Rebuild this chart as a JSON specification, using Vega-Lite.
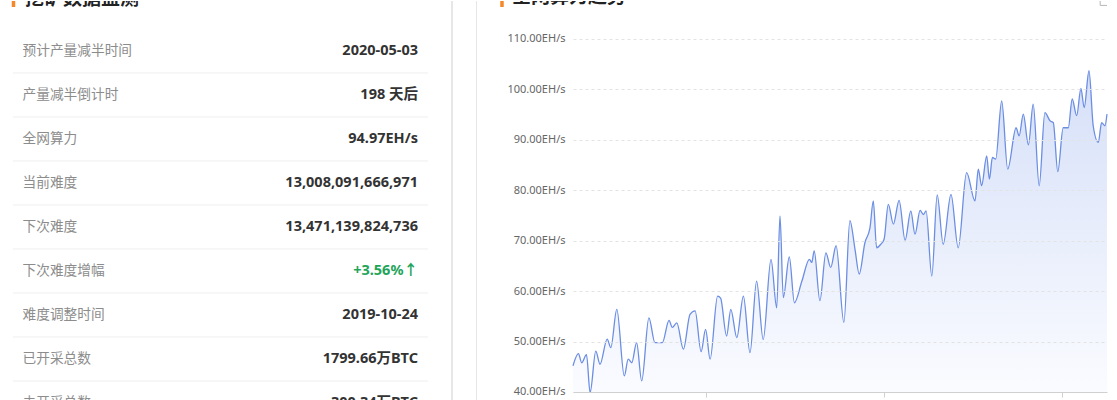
{
  "$schema": "https://vega.github.io/schema/vega-lite/v6.json",
  "padding": 0,
  "autosize": {"type": "pad"},
  "background": "white",
  "spacing": 0,
  "bounds": "flush",
  "config": {"view": {"stroke": null}, "font": "'Noto Sans', 'Noto Sans CJK SC', sans-serif"},
  "datasets": {
    "rows": [
      {"row": 1, "label": "预计产量减半时间", "value": "2020-05-03", "kind": "normal"},
      {"row": 2, "label": "产量减半倒计时", "value": "198 天后", "kind": "normal"},
      {"row": 3, "label": "全网算力", "value": "94.97EH/s", "kind": "normal"},
      {"row": 4, "label": "当前难度", "value": "13,008,091,666,971", "kind": "normal"},
      {"row": 5, "label": "下次难度", "value": "13,471,139,824,736", "kind": "normal"},
      {"row": 6, "label": "下次难度增幅", "value": "+3.56%↑", "kind": "up"},
      {"row": 7, "label": "难度调整时间", "value": "2019-10-24", "kind": "normal"},
      {"row": 8, "label": "已开采总数", "value": "1799.66万BTC", "kind": "normal"},
      {"row": 9, "label": "未开采总数", "value": "300.34万BTC", "kind": "normal"}
    ],
    "hashrate": [
      {"t": 0.0, "v": 45.2}, {"t": 1.8, "v": 47.6}, {"t": 2.9, "v": 45.8}, {"t": 4.5, "v": 47.4},
      {"t": 5.7, "v": 39.9}, {"t": 7.6, "v": 48.1}, {"t": 9.0, "v": 45.5}, {"t": 11.4, "v": 50.5},
      {"t": 12.6, "v": 48.8}, {"t": 14.6, "v": 56.4}, {"t": 17.1, "v": 43.2}, {"t": 18.4, "v": 46.5},
      {"t": 19.6, "v": 45.8}, {"t": 21.2, "v": 49.8}, {"t": 22.9, "v": 42.2}, {"t": 25.3, "v": 54.7},
      {"t": 27.3, "v": 49.8}, {"t": 29.8, "v": 49.8}, {"t": 32.0, "v": 54.2}, {"t": 33.1, "v": 52.8},
      {"t": 34.6, "v": 53.7}, {"t": 36.8, "v": 48.5}, {"t": 39.0, "v": 55.4}, {"t": 40.7, "v": 56.1},
      {"t": 42.7, "v": 48.0}, {"t": 44.2, "v": 52.4}, {"t": 45.7, "v": 46.5}, {"t": 48.2, "v": 59.0},
      {"t": 49.2, "v": 58.6}, {"t": 51.2, "v": 51.1}, {"t": 52.6, "v": 56.4}, {"t": 54.6, "v": 50.8},
      {"t": 56.8, "v": 59.0}, {"t": 59.0, "v": 47.8}, {"t": 61.2, "v": 62.0}, {"t": 63.4, "v": 50.4},
      {"t": 66.0, "v": 66.3}, {"t": 67.9, "v": 56.7}, {"t": 69.0, "v": 74.9}, {"t": 70.1, "v": 58.7},
      {"t": 72.1, "v": 66.8}, {"t": 73.8, "v": 57.7}, {"t": 76.3, "v": 62.0}, {"t": 78.8, "v": 66.3},
      {"t": 79.6, "v": 65.7}, {"t": 80.4, "v": 68.0}, {"t": 82.3, "v": 58.1}, {"t": 84.3, "v": 67.6},
      {"t": 85.9, "v": 64.7}, {"t": 87.7, "v": 69.0}, {"t": 90.3, "v": 53.8}, {"t": 92.3, "v": 74.0},
      {"t": 94.0, "v": 68.3}, {"t": 95.4, "v": 63.4}, {"t": 97.3, "v": 69.6}, {"t": 99.0, "v": 72.6},
      {"t": 100.1, "v": 77.9}, {"t": 101.2, "v": 68.6}, {"t": 102.6, "v": 69.3}, {"t": 103.7, "v": 70.3},
      {"t": 105.1, "v": 77.2}, {"t": 106.8, "v": 73.3}, {"t": 108.7, "v": 78.0}, {"t": 110.7, "v": 70.1},
      {"t": 112.6, "v": 75.9}, {"t": 114.0, "v": 71.3}, {"t": 115.7, "v": 76.0}, {"t": 116.8, "v": 75.2},
      {"t": 117.7, "v": 75.9}, {"t": 119.6, "v": 63.0}, {"t": 121.4, "v": 79.1}, {"t": 123.4, "v": 69.3},
      {"t": 126.0, "v": 79.2}, {"t": 128.4, "v": 68.6}, {"t": 131.2, "v": 83.5}, {"t": 134.0, "v": 77.9},
      {"t": 135.1, "v": 84.2}, {"t": 136.2, "v": 80.9}, {"t": 137.9, "v": 86.8}, {"t": 138.8, "v": 82.2},
      {"t": 139.8, "v": 86.5}, {"t": 140.9, "v": 86.2}, {"t": 142.9, "v": 97.7}, {"t": 144.9, "v": 84.2},
      {"t": 147.7, "v": 92.4}, {"t": 148.7, "v": 90.8}, {"t": 150.1, "v": 95.1}, {"t": 151.8, "v": 89.0},
      {"t": 153.4, "v": 97.1}, {"t": 155.4, "v": 80.9}, {"t": 157.3, "v": 95.4}, {"t": 159.0, "v": 93.8},
      {"t": 160.1, "v": 93.4}, {"t": 161.6, "v": 83.7}, {"t": 163.4, "v": 92.4}, {"t": 165.1, "v": 92.4},
      {"t": 166.4, "v": 98.1}, {"t": 167.9, "v": 94.8}, {"t": 169.3, "v": 100.2}, {"t": 170.4, "v": 96.4},
      {"t": 172.0, "v": 103.7}, {"t": 173.4, "v": 92.8}, {"t": 175.1, "v": 89.5}, {"t": 176.2, "v": 93.4},
      {"t": 177.3, "v": 92.8}, {"t": 178.0, "v": 95.1}
    ]
  },
  "hconcat": [
    {
      "width": 477,
      "height": 400,
      "data": {"name": "rows"},
      "layer": [
        {
          "mark": {"type": "rule", "color": "#e6e6e6", "strokeWidth": 1},
          "encoding": {"x": {"datum": 452, "type": "quantitative", "scale": {"domain": [0, 477], "nice": false, "zero": false}, "axis": null}}
        },
        {
          "mark": {"type": "rule", "color": "#e6e6e6", "strokeWidth": 1},
          "encoding": {"x": {"datum": 476.5, "type": "quantitative", "axis": null}}
        },
        {
          "transform": [{"filter": "datum.row <= 8"}],
          "mark": {"type": "rule", "color": "#eeeeee", "strokeWidth": 1, "clip": true},
          "encoding": {
            "x": {"datum": 13, "type": "quantitative", "axis": null},
            "x2": {"datum": 428},
            "y": {"field": "row", "type": "quantitative", "scale": {"domain": [-0.636, 8.4545], "nice": false, "zero": false, "reverse": true}, "axis": null}
          }
        },
        {
          "mark": {"type": "text", "align": "left", "baseline": "middle", "dy": -22, "fontSize": 13.7, "color": "#8c8c8c", "font": "'Noto Sans CJK SC', sans-serif", "clip": true},
          "encoding": {
            "x": {"datum": 22.5, "type": "quantitative", "axis": null},
            "y": {"field": "row", "type": "quantitative", "axis": null},
            "text": {"field": "label"}
          }
        },
        {
          "mark": {"type": "text", "align": "right", "baseline": "middle", "dy": -22, "fontSize": 14.5, "fontWeight": "bold", "clip": true},
          "encoding": {
            "x": {"datum": 418, "type": "quantitative", "axis": null},
            "y": {"field": "row", "type": "quantitative", "axis": null},
            "text": {"field": "value"},
            "color": {"field": "kind", "type": "nominal", "scale": {"domain": ["normal", "up"], "range": ["#333333", "#1fa55a"]}, "legend": null}
          }
        },
        {
          "data": {"values": [{}]},
          "mark": {"type": "text", "align": "left", "baseline": "alphabetic", "dy": -24, "fontSize": 19, "fontWeight": "bold", "color": "#222222", "font": "'Noto Sans CJK SC', sans-serif", "clip": true, "text": "挖矿数据监测"},
          "encoding": {
            "x": {"datum": 25, "type": "quantitative", "axis": null},
            "y": {"datum": 0, "type": "quantitative", "axis": null}
          }
        },
        {
          "data": {"values": [{}]},
          "mark": {"type": "rule", "color": "#f5892a", "strokeWidth": 3.5, "clip": true},
          "encoding": {
            "x": {"datum": 13.5, "type": "quantitative", "axis": null},
            "y": {"datum": -1, "type": "quantitative", "axis": null},
            "y2": {"datum": -0.5}
          }
        }
      ]
    },
    {
      "width": 630,
      "height": 400,
      "data": {"name": "hashrate"},
      "layer": [
        {
          "mark": {
            "type": "area",
            "interpolate": "monotone",
            "color": {"gradient": "linear", "x1": 1, "y1": 1, "x2": 1, "y2": 0, "stops": [{"offset": 0, "color": "#f8faff"}, {"offset": 1, "color": "#c4d2f5"}]},
            "line": {"color": "#6b8ee3", "strokeWidth": 1.3}
          },
          "encoding": {
            "x": {
              "field": "t", "type": "quantitative",
              "scale": {"domain": [0, 178], "range": [96, 630], "nice": false, "zero": false},
              "axis": {"orient": "bottom", "offset": -9, "values": [44.33, 103.67, 163], "labels": false, "grid": false, "domainColor": "#d0d0d0", "tickColor": "#d0d0d0", "tickSize": 5, "title": null, "zindex": 1}
            },
            "y": {
              "field": "v", "type": "quantitative",
              "scale": {"domain": [38.215, 117.535], "nice": false, "zero": false},
              "axis": {"offset": -96, "values": [40, 50, 60, 70, 80, 90, 100, 110], "labelExpr": "format(datum.value, '.2f') + 'EH/s'", "domain": false, "ticks": false, "labelPadding": 8, "labelFontSize": 11, "labelColor": "#666666", "labelFont": "Noto Sans", "gridColor": "#e3e3e3", "gridDash": [3, 3], "title": null, "zindex": 1}
            },
            "y2": {"datum": 40}
          }
        },
        {
          "data": {"values": [{}]},
          "mark": {"type": "text", "align": "left", "baseline": "alphabetic", "dy": -2, "fontSize": 19, "fontWeight": "bold", "color": "#222222", "font": "'Noto Sans CJK SC', sans-serif", "clip": true, "text": "全网算力趋势"},
          "encoding": {
            "x": {"datum": -20.33, "type": "quantitative"},
            "y": {"datum": 116.74, "type": "quantitative"}
          }
        },
        {
          "data": {"values": [{}]},
          "mark": {"type": "rule", "color": "#f5892a", "strokeWidth": 3.5, "clip": true},
          "encoding": {
            "x": {"datum": -23.67, "type": "quantitative"},
            "y": {"datum": 121, "type": "quantitative"},
            "y2": {"datum": 116.34}
          }
        },
        {
          "data": {"values": [{}]},
          "mark": {"type": "point", "shape": "square", "filled": false, "color": "#999999", "size": 90, "strokeWidth": 1, "clip": true},
          "encoding": {
            "x": {"datum": 177.3, "type": "quantitative"},
            "y": {"datum": 117.6, "type": "quantitative"}
          }
        }
      ]
    }
  ]
}
